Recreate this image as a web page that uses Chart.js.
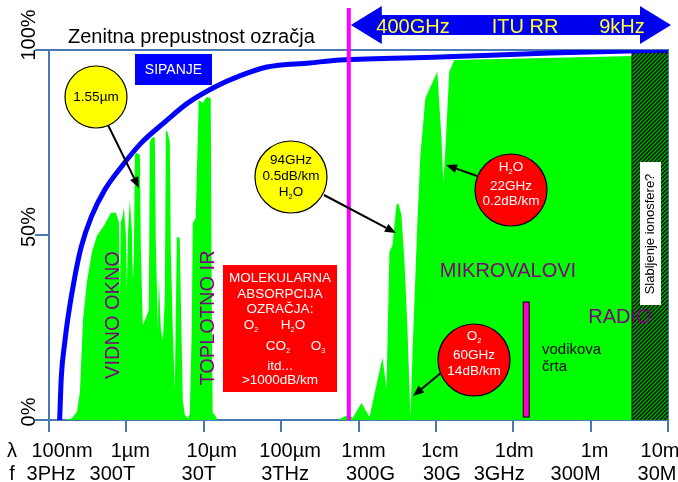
<!DOCTYPE html>
<html>
<head>
<meta charset="utf-8">
<script src="https://cdn.jsdelivr.net/npm/chart.js@4/dist/chart.umd.min.js"></script>
<style>
  html, body { margin: 0; padding: 0; background: #fff; }
</style>
</head>
<body>
<canvas id="spekter" width="678" height="482"></canvas>
<script>
// x os: valovna dolzina v metrih (log), y os: prepustnost v %
const decades = [1e-7, 1e-6, 1e-5, 1e-4, 1e-3, 1e-2, 1e-1, 1, 10];
const lambdaLabels = ["100nm", "1µm", "10µm", "100µm", "1mm", "1cm", "1dm", "1m", "10m"];
const freqLabels = ["3PHz", "300T", "30T", "3THz", "300G", "30G", "3GHz", "300M", "30M"];
const percentTicks = [0, 50, 100];

// atmosferska okna (zeleno)
const windowWavelength = [
  1.56e-7, 1.98e-7, 2.30e-7, 2.51e-7, 2.75e-7, 3.09e-7, 3.59e-7, 4.16e-7, 5.28e-7, 6.31e-7,
  7.32e-7, 8.0e-7, 8.24e-7, 8.49e-7, 9.0e-7, 9.29e-7, 9.86e-7, 1.015e-6, 1.045e-6, 1.109e-6,
  1.177e-6, 1.213e-6, 1.25e-6, 1.288e-6, 1.366e-6, 1.493e-6, 1.538e-6, 1.632e-6, 1.785e-6, 1.95e-6,
  2.01e-6, 2.13e-6, 2.33e-6, 2.40e-6, 2.55e-6, 2.63e-6, 2.79e-6, 2.96e-6, 3.14e-6, 3.24e-6,
  3.43e-6, 3.64e-6, 3.75e-6, 3.98e-6, 4.23e-6, 4.49e-6, 4.90e-6, 5.05e-6, 5.36e-6, 5.69e-6,
  6.22e-6, 6.60e-6, 7.0e-6, 7.21e-6, 7.88e-6, 8.61e-6, 9.70e-6, 1.094e-5, 1.23e-5, 1.268e-5,
  1.306e-5, 1.386e-5, 1.47e-5, 1.52e-5,
  5.36e-4, 7.65e-4, 8.37e-4, 1.094e-3, 1.387e-3, 2.04e-3, 2.30e-3, 2.51e-3, 2.75e-3, 3.09e-3,
  3.28e-3, 3.59e-3, 3.93e-3, 4.29e-3, 4.69e-3, 4.98e-3, 5.77e-3, 6.31e-3, 7.32e-3, 1.045e-2,
  1.18e-2, 1.25e-2, 1.33e-2, 1.49e-2, 1.73e-2, 0.5, 10
];
const windowTransmission = [
  0, 0.5, 2.2, 7.6, 27, 37.3, 45.4, 49.7, 53, 56,
  56, 53.5, 32.4, 53.5, 55.4, 57.6, 50, 35, 50, 59.5,
  51.4, 37.8, 43.2, 71.6, 72.2, 71.6, 46, 25.7, 27.6, 29.7,
  75.1, 76.2, 76.5, 48.6, 24.3, 38.6, 24.3, 21.6, 32.4, 78.4,
  77.6, 75.1, 46, 24.3, 8.1, 49.5, 49.2, 32.4, 5.4, 1.4,
  0.5, 1.6, 24.3, 53.2, 54.6, 86.5, 85.7, 87.3, 87, 32.4,
  1.9, 1.4, 0.5, 0,
  0, 1.6, 0.5, 4.6, 0.8, 16.8, 8.6, 45.4, 47.3, 58.1,
  58.6, 55.4, 42.7, 24.9, 0.8, 17.6, 53.5, 71.6, 87, 94.1,
  76.2, 64.3, 73.5, 94.1, 97.3, 98, 98.6
];

// sipanje (modra krivulja)
const scatterWavelength = [
  1.374e-7, 1.442e-7, 1.595e-7, 1.762e-7, 2.15e-7, 2.61e-7, 3.52e-7, 5.25e-7, 8.59e-7, 1.56e-6,
  3.13e-6, 6.25e-6, 1.39e-5, 2.92e-5, 6.56e-5, 2.33e-4, 5.75e-4, 1.13e-2, 0.298, 10
];
const scatterTransmission = [
  0, 11.6, 20.8, 27.8, 38.6, 46.8, 54.9, 62.2, 68.4, 74.9,
  80.5, 85.7, 90, 93, 95.4, 96.5, 97.3, 98.1, 99.2, 100
];

const ionosphereStart = 3.43; // m
const ionosphereTop = 99.3;
const ituUpperFreq = 400e9;   // Hz
const hydrogenLine = 0.147;   // m, kot na sliki
const hydrogenSpan = [0.8, 31.9];

document.addEventListener("DOMContentLoaded", function () {
  const axisColor = "#4a78b4";
  const font = "'Liberation Sans', Arial, sans-serif";
  Chart.defaults.font.family = font;

  const canvas = document.getElementById("spekter");
  const ctx = canvas.getContext("2d");

  function hatch() {
    const c = document.createElement("canvas");
    c.width = 4;
    c.height = 4;
    const g = c.getContext("2d");
    g.fillStyle = "#00b000";
    g.fillRect(0, 0, 4, 4);
    g.strokeStyle = "#000";
    g.lineWidth = 1.3;
    g.beginPath();
    g.moveTo(-1, 5); g.lineTo(5, -1);
    g.moveTo(-1, 1); g.lineTo(1, -1);
    g.moveTo(3, 5); g.lineTo(5, 3);
    g.stroke();
    return ctx.createPattern(c, "repeat");
  }

  const pts = (xs, ys) => xs.map((v, i) => ({ x: v, y: ys[i] }));

  const data = {
    datasets: [
      {
        label: "okna",
        data: pts(windowWavelength, windowTransmission),
        backgroundColor: "#00ff00",
        borderWidth: 0,
        borderColor: "rgba(0,0,0,0)",
        fill: "origin",
        pointRadius: 0,
        tension: 0,
        order: 3,
      },
      {
        label: "ionosfera",
        data: [
          { x: ionosphereStart, y: 0 },
          { x: ionosphereStart, y: ionosphereTop },
          { x: 10, y: ionosphereTop },
        ],
        backgroundColor: hatch(),
        borderColor: "#000",
        borderWidth: 1,
        fill: "origin",
        pointRadius: 0,
        tension: 0,
        order: 2,
      },
      {
        label: "sipanje",
        data: pts(scatterWavelength, scatterTransmission),
        borderColor: "#0000ff",
        borderWidth: 5,
        fill: false,
        pointRadius: 0,
        cubicInterpolationMode: "monotone",
        order: 1,
      },
    ],
  };

  const frame = {
    id: "frame",
    beforeDatasetsDraw(chart) {
      const a = chart.chartArea;
      const c = chart.ctx;
      c.save();
      c.strokeStyle = axisColor;
      c.lineWidth = 2;
      c.beginPath();
      c.moveTo(a.left, a.top);
      c.lineTo(a.right, a.top);
      c.lineTo(a.right, a.bottom);
      c.stroke();
      c.restore();
    },
  };

  // tekst z indeksi: [["H"],["2",true],["O"]]
  function rich(c, parts, cx, cy, size, color) {
    const sub = size * 0.55;
    let w = 0;
    parts.forEach((p) => {
      c.font = (p[1] ? sub : size) + "px " + font;
      w += c.measureText(p[0]).width;
    });
    let x = cx - w / 2;
    c.fillStyle = color;
    c.textAlign = "left";
    c.textBaseline = "middle";
    parts.forEach((p) => {
      c.font = (p[1] ? sub : size) + "px " + font;
      c.fillText(p[0], x, p[1] ? cy + size * 0.38 : cy);
      x += c.measureText(p[0]).width;
    });
  }

  function circle(c, x, y, r, fill) {
    c.beginPath();
    c.arc(x, y, r, 0, Math.PI * 2);
    c.fillStyle = fill;
    c.fill();
    c.lineWidth = 1.2;
    c.strokeStyle = "#000";
    c.stroke();
  }

  function arrow(c, x1, y1, x2, y2) {
    const ang = Math.atan2(y2 - y1, x2 - x1);
    const len = 11, hw = 4.5;
    const bx = x2 - Math.cos(ang) * len, by = y2 - Math.sin(ang) * len;
    c.strokeStyle = "#000";
    c.lineWidth = 2;
    c.beginPath();
    c.moveTo(x1, y1);
    c.lineTo(bx, by);
    c.stroke();
    c.fillStyle = "#000";
    c.beginPath();
    c.moveTo(x2, y2);
    c.lineTo(bx + Math.sin(ang) * hw, by - Math.cos(ang) * hw);
    c.lineTo(bx - Math.sin(ang) * hw, by + Math.cos(ang) * hw);
    c.closePath();
    c.fill();
  }

  function vtext(c, text, x, y, size, color) {
    c.save();
    c.translate(x, y);
    c.rotate(-Math.PI / 2);
    c.font = size + "px " + font;
    c.fillStyle = color;
    c.textAlign = "center";
    c.textBaseline = "alphabetic";
    c.fillText(text, 0, 0);
    c.restore();
  }

  const notes = {
    id: "notes",
    afterDatasetsDraw(chart) {
      const c = chart.ctx;
      const xs = chart.scales.x, ys = chart.scales.y;
      const a = chart.chartArea;
      const purple = "#800080";
      c.save();

      // naslov
      c.font = "20px " + font;
      c.fillStyle = "#000";
      c.textAlign = "left";
      c.textBaseline = "alphabetic";
      c.fillText("Zenitna prepustnost ozračja", 68, 43);

      // meja 400 GHz
      const mx = xs.getPixelForValue(299792458 / ituUpperFreq);
      c.fillStyle = "#ff00ff";
      c.fillRect(mx - 2, 8, 4, a.bottom - 8);

      // ITU RR puscica
      const l = mx + 2, r = a.right + 3;
      c.fillStyle = "#0000f0";
      c.beginPath();
      c.moveTo(l, 25);
      c.lineTo(l + 31, 6); c.lineTo(l + 31, 15);
      c.lineTo(r - 31, 15); c.lineTo(r - 31, 6);
      c.lineTo(r, 25);
      c.lineTo(r - 31, 44); c.lineTo(r - 31, 35);
      c.lineTo(l + 31, 35); c.lineTo(l + 31, 44);
      c.closePath();
      c.fill();
      c.font = "20px " + font;
      c.fillStyle = "#ffff33";
      c.textAlign = "center";
      c.textBaseline = "alphabetic";
      c.fillText("400GHz", 413, 33);
      c.fillText("ITU RR", 525, 33);
      c.fillText("9kHz", 622, 33);

      // SIPANJE
      c.fillStyle = "#0000ff";
      c.fillRect(135, 54, 77, 31);
      rich(c, [["SIPANJE"]], 173.5, 70, 14, "#fff");

      // vodikova crta
      const hx = xs.getPixelForValue(hydrogenLine);
      const hy1 = ys.getPixelForValue(hydrogenSpan[1]);
      const hy0 = ys.getPixelForValue(hydrogenSpan[0]);
      c.fillStyle = "#ff00cc";
      c.fillRect(hx - 3, hy1, 6, hy0 - hy1);
      c.strokeStyle = "#000";
      c.lineWidth = 1;
      c.strokeRect(hx - 3, hy1, 6, hy0 - hy1);
      c.font = "15px " + font;
      c.fillStyle = "#000";
      c.textAlign = "left";
      c.textBaseline = "middle";
      c.fillText("vodikova", 542, 350);
      c.fillText("črta", 542, 367);

      // navpicni napisi
      vtext(c, "VIDNO OKNO", 119, 315, 20, purple);
      vtext(c, "TOPLOTNO IR", 214, 318, 20, purple);
      rich(c, [["MIKROVALOVI"]], 508, 271, 20, purple);
      rich(c, [["RADIO"]], 620, 317, 20, purple);

      // ionosfera
      c.fillStyle = "#fff";
      c.fillRect(640, 162, 21, 143);
      vtext(c, "Slabljenje ionosfere?", 654, 234, 13, "#000");

      // molekularna absorpcija
      c.fillStyle = "#ff0000";
      c.fillRect(223, 265, 114, 127);
      const s = 13.5, w = "#fff";
      rich(c, [["MOLEKULARNA"]], 280, 278, s, w);
      rich(c, [["ABSORPCIJA"]], 280, 294, s, w);
      rich(c, [["OZRAČJA:"]], 280, 309, s, w);
      rich(c, [["O"], ["2", true]], 251, 325, s, w);
      rich(c, [["H"], ["2", true], ["O"]], 293, 325, s, w);
      rich(c, [["CO"], ["2", true]], 278, 346, s, w);
      rich(c, [["O"], ["3", true]], 318, 346, s, w);
      rich(c, [["itd..."]], 280, 366, s, w);
      rich(c, [[">1000dB/km"]], 280, 380, s, w);

      // puscice in krogi
      arrow(c, 108, 125, 139, 188);
      circle(c, 96, 97, 31, "#ffff00");
      rich(c, [["1.55µm"]], 96, 97, s, "#000");

      arrow(c, 324, 195, 396, 233);
      circle(c, 291, 177, 36, "#ffff00");
      rich(c, [["94GHz"]], 291, 160, s, "#000");
      rich(c, [["0.5dB/km"]], 291, 176, s, "#000");
      rich(c, [["H"], ["2", true], ["O"]], 291, 192, s, "#000");

      arrow(c, 477, 176, 446, 165);
      circle(c, 511, 190, 36, "#ff0000");
      rich(c, [["H"], ["2", true], ["O"]], 511, 167, s, w);
      rich(c, [["22GHz"]], 511, 186, s, w);
      rich(c, [["0.2dB/km"]], 511, 201, s, w);

      arrow(c, 442, 372, 413, 396);
      circle(c, 474, 360, 36, "#ff0000");
      rich(c, [["O"], ["2", true]], 474, 336, s, w);
      rich(c, [["60GHz"]], 474, 355, s, w);
      rich(c, [["14dB/km"]], 474, 371, s, w);

      c.restore();
    },
  };

  const lambdaNudge = [13, 4, 8, 9, 5, 4, 1, 4, -8];
  const freqNudge = [2, -14, -5, 4, 12, 6, -14, -15, -11];
  const percentNudge = [-8, -8, -15];

  const axisText = {
    id: "axisText",
    afterDraw(chart) {
      const c = chart.ctx;
      const xs = chart.scales.x, ys = chart.scales.y;
      c.save();
      c.fillStyle = "#000";
      c.font = "20px " + font;
      c.textAlign = "center";
      c.textBaseline = "alphabetic";
      c.fillText("λ", 12, 457);
      c.fillText("f", 12, 480);
      decades.forEach((v, i) => {
        const px = xs.getPixelForValue(v);
        c.fillText(lambdaLabels[i], px + lambdaNudge[i], 457);
        c.fillText(freqLabels[i], px + freqNudge[i], 480);
      });
      c.restore();
      percentTicks.forEach((v, i) => {
        vtext(c, v + "%", 35, ys.getPixelForValue(v) + percentNudge[i], 20, "#000");
      });
    },
  };

  const config = {
    type: "line",
    data: data,
    options: {
      responsive: false,
      animation: false,
      layout: { padding: { left: 35, top: 50, right: 10, bottom: 50 } },
      scales: {
        x: {
          type: "logarithmic",
          min: 1e-7,
          max: 10,
          afterBuildTicks: (scale) => {
            scale.ticks = decades.map((v) => ({ value: v }));
          },
          ticks: { display: false },
          grid: {
            drawOnChartArea: false,
            drawTicks: true,
            tickLength: 12,
            color: axisColor,
            lineWidth: 2,
          },
          border: { color: axisColor, width: 2 },
        },
        y: {
          min: 0,
          max: 100,
          afterBuildTicks: (scale) => {
            scale.ticks = percentTicks.map((v) => ({ value: v }));
          },
          ticks: { display: false },
          grid: {
            drawOnChartArea: false,
            drawTicks: true,
            tickLength: 14,
            color: axisColor,
            lineWidth: 2,
          },
          border: { color: axisColor, width: 2 },
        },
      },
      plugins: {
        legend: { display: false },
        tooltip: { enabled: false },
      },
    },
    plugins: [frame, notes, axisText],
  };

  new Chart(canvas, config);
});
</script>
</body>
</html>
